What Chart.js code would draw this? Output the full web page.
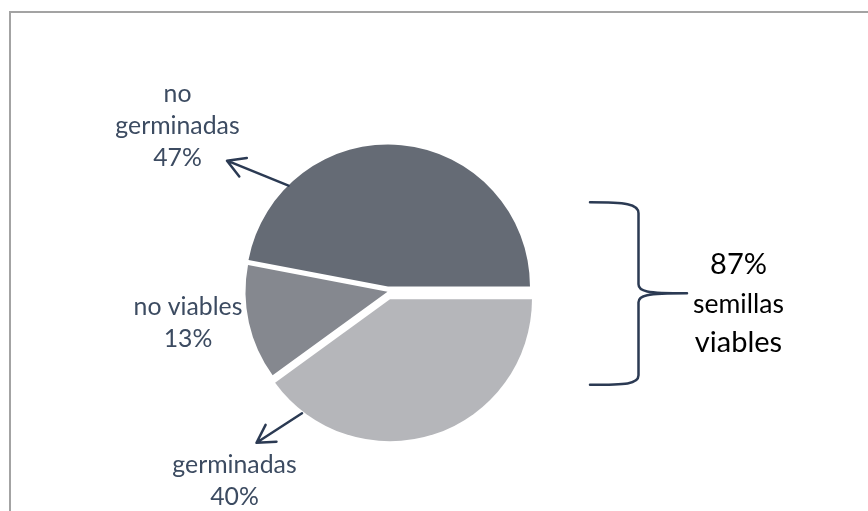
<!DOCTYPE html>
<html>
<head>
<meta charset="utf-8">
<script src="https://cdn.jsdelivr.net/npm/chart.js@4/dist/chart.umd.min.js"></script>
<style>
  html, body { margin: 0; padding: 0; background: #ffffff; }
  #wrap { width: 868px; height: 511px; }
</style>
</head>
<body>
<div id="wrap"><canvas id="seedChart" width="868" height="511"></canvas></div>
<script>
// Seed test results, in percent of all seeds
const categories = ['germinadas', 'no viables', 'no germinadas'];
const percentages = [40, 13, 47];
// Viable seeds = germinated + not germinated
const viableShare = percentages[0] + percentages[2];
const viableLines = ['semillas', 'viables'];

const sliceColors = ['#b5b6ba', '#85888f', '#656b75'];
const labelColor = '#3c4b61';
const inkColor = '#2b3a53';
const labelFont = 'Lato, "Liberation Sans", sans-serif';

// How far each slice is pulled out of the pie (px)
const slicePull = [8, 0, 5.2];

// Label blocks, placed relative to the pie centre
const labelLayout = [
  { dx: -153, baseline: 181.5, wrap: false, arrow: { from: [-85.5, 121.5], to: [-131, 151] } },
  { dx: -199.5, baseline: 23.5, wrap: false, arrow: null },
  { dx: -210, baseline: -189.5, wrap: true, arrow: { from: [-99, -106], to: [-160.5, -131] } }
];

const pullPlugin = {
  id: 'slicePull',
  afterDatasetsUpdate(chart) {
    const meta = chart.getDatasetMeta(0);
    meta.data.forEach((arc, i) => {
      const mid = (arc.startAngle + arc.endAngle) / 2;
      arc.x += Math.cos(mid) * slicePull[i];
      arc.y += Math.sin(mid) * slicePull[i];
    });
  }
};

function drawArrow(ctx, x0, y0, x1, y1) {
  const ang = Math.atan2(y0 - y1, x0 - x1);
  const head = 20, spread = Math.PI / 6;
  ctx.beginPath();
  ctx.moveTo(x0, y0);
  ctx.lineTo(x1, y1);
  ctx.moveTo(x1 + Math.cos(ang - spread) * head, y1 + Math.sin(ang - spread) * head);
  ctx.lineTo(x1, y1);
  ctx.lineTo(x1 + Math.cos(ang + spread) * head, y1 + Math.sin(ang + spread) * head);
  ctx.stroke();
}

const annotationPlugin = {
  id: 'seedAnnotations',
  beforeDraw(chart) {
    const ctx = chart.ctx;
    ctx.save();
    ctx.fillStyle = '#ffffff';
    ctx.fillRect(0, 0, chart.width, chart.height);
    // chart frame (runs past the right and bottom edges)
    ctx.strokeStyle = '#a3a3a3';
    ctx.lineWidth = 2;
    ctx.beginPath();
    ctx.moveTo(10, chart.height + 2);
    ctx.lineTo(10, 12);
    ctx.lineTo(chart.width + 2, 12);
    ctx.stroke();
    ctx.restore();
  },
  afterDraw(chart) {
    const ctx = chart.ctx;
    const area = chart.chartArea;
    const cx = (area.left + area.right) / 2;
    const cy = (area.top + area.bottom) / 2;
    ctx.save();

    // category labels with their percentages
    ctx.font = '24.8px ' + labelFont;
    ctx.fillStyle = labelColor;
    ctx.textAlign = 'center';
    ctx.textBaseline = 'alphabetic';
    const lineH = 31.8;
    categories.forEach((name, i) => {
      const lay = labelLayout[i];
      const lines = lay.wrap ? name.split(' ') : [name];
      lines.push(percentages[i] + '%');
      lines.forEach((t, k) => ctx.fillText(t, cx + lay.dx, cy + lay.baseline + k * lineH));
    });

    // arrows from slices to their labels
    ctx.strokeStyle = inkColor;
    ctx.lineWidth = 2.5;
    ctx.lineCap = 'round';
    ctx.lineJoin = 'round';
    labelLayout.forEach(lay => {
      if (!lay.arrow) return;
      drawArrow(ctx, cx + lay.arrow.from[0], cy + lay.arrow.from[1],
                cx + lay.arrow.to[0], cy + lay.arrow.to[1]);
    });

    // curly brace grouping the viable seeds
    const bx = cx + 251, by = cy + 1.6;
    ctx.beginPath();
    ctx.moveTo(bx - 48.5, by - 91);
    ctx.bezierCurveTo(bx - 13, by - 91, bx, by - 89.5, bx, by - 80);
    ctx.lineTo(bx, by - 9);
    ctx.bezierCurveTo(bx, by - 2, bx + 7, by, bx + 48.5, by);
    ctx.bezierCurveTo(bx + 7, by, bx, by + 2, bx, by + 9);
    ctx.lineTo(bx, by + 82);
    ctx.bezierCurveTo(bx, by + 91, bx - 13, by + 91.5, bx - 48.5, by + 91.5);
    ctx.stroke();

    // viable share text
    ctx.fillStyle = '#000000';
    const tx = cx + 351;
    ctx.font = '29px ' + labelFont;
    ctx.fillText(viableShare + '%', tx, cy - 17.5);
    ctx.font = '26.5px ' + labelFont;
    ctx.fillText(viableLines[0], tx, cy + 21.5);
    ctx.font = '29px ' + labelFont;
    ctx.fillText(viableLines[1], tx, cy + 60.5);

    ctx.restore();
  }
};

new Chart(document.getElementById('seedChart'), {
  type: 'pie',
  data: {
    labels: categories,
    datasets: [{
      data: percentages,
      backgroundColor: sliceColors,
      borderWidth: 0
    }]
  },
  options: {
    responsive: false,
    devicePixelRatio: 1,
    animation: false,
    events: [],
    rotation: 90,
    radius: 142,
    layout: { padding: { left: 100, right: 193, top: 100, bottom: 27.6 } },
    plugins: {
      legend: { display: false },
      tooltip: { enabled: false }
    }
  },
  plugins: [pullPlugin, annotationPlugin]
});
</script>
</body>
</html>
